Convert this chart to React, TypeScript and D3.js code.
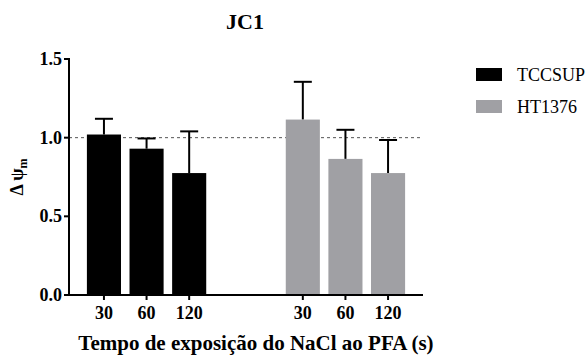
import * as d3 from 'd3';

const cellLines = ['TCCSUP', 'HT1376'];
const times = ['30', '60', '120'];
const meanTCCSUP = [1.02, 0.93, 0.775];
const errTCCSUP = [0.10, 0.065, 0.265];
const meanHT1376 = [1.115, 0.865, 0.775];
const errHT1376 = [0.24, 0.185, 0.21];
const yTicks = [0, 0.5, 1.0, 1.5];
const colors = ['#000000', '#a0a0a4'];

const W = 586, H = 355;
const FONT = '"Liberation Serif", "Times New Roman", serif';

export default function App() {
  const margin = { left: 69, right: 163, top: 59, bottom: 60 };
  const x0 = d3.scaleBand().domain(cellLines).range([margin.left, W - margin.right])
    .paddingInner(0.4).paddingOuter(0.09);
  const x1 = d3.scaleBand().domain(times).range([0, x0.bandwidth()]).paddingInner(0.2).paddingOuter(0);
  const y = d3.scaleLinear().domain([0, 1.5]).range([H - margin.bottom, margin.top]);
  const series = [
    { name: cellLines[0], mean: meanTCCSUP, err: errTCCSUP, color: colors[0] },
    { name: cellLines[1], mean: meanHT1376, err: errHT1376, color: colors[1] },
  ];
  const axisRight = W - margin.right;
  const y0 = y(0);

  return (
    <svg width={W} height={H} style={{ position: 'absolute', left: 0, top: 0, fontFamily: FONT }}>
      <text x={245} y={29} textAnchor="middle" fontWeight="bold" fontSize={22}>JC1</text>

      {/* reference line at 1.0 */}
      <line x1={margin.left} x2={axisRight - 2} y1={y(1)} y2={y(1)} stroke="#555" strokeWidth={1} strokeDasharray="3,3" />

      {series.map(s => (
        <g key={s.name}>
          {times.map((t, i) => {
            const bx = (x0(s.name) as number) + (x1(t) as number);
            const cx = bx + x1.bandwidth() / 2;
            const top = y(s.mean[i] + s.err[i]);
            return (
              <g key={t}>
                <line x1={cx} x2={cx} y1={y(s.mean[i])} y2={top} stroke="#000" strokeWidth={2} />
                <line x1={cx - 9} x2={cx + 9} y1={top} y2={top} stroke="#000" strokeWidth={2} />
                <rect x={bx} y={y(s.mean[i])} width={x1.bandwidth()} height={y0 - y(s.mean[i])} fill={s.color} />
                <line x1={cx} x2={cx} y1={y0} y2={y0 + 5} stroke="#000" strokeWidth={2} />
                <text x={cx} y={y0 + 24} textAnchor="middle" fontWeight="bold" fontSize={18}>{t}</text>
              </g>
            );
          })}
        </g>
      ))}

      {/* axes */}
      <line x1={margin.left} x2={margin.left} y1={y(1.5) - 1} y2={y0 + 1} stroke="#000" strokeWidth={2} />
      <line x1={margin.left - 1} x2={axisRight} y1={y0} y2={y0} stroke="#000" strokeWidth={2} />
      {yTicks.map(v => (
        <g key={v}>
          <line x1={margin.left - 5} x2={margin.left} y1={y(v)} y2={y(v)} stroke="#000" strokeWidth={2} />
          <text x={margin.left - 7} y={y(v)} dy="0.33em" textAnchor="end" fontWeight="bold" fontSize={18}>{d3.format('.1f')(v)}</text>
        </g>
      ))}

      <text transform={`translate(23,${(y(0) + y(1.5)) / 2}) rotate(-90)`} textAnchor="middle" fontWeight="bold" fontSize={18}>
        Δ ψ<tspan fontSize={12} dy={4}>m</tspan>
      </text>

      <text x={256} y={350} textAnchor="middle" fontWeight="bold" fontSize={21}>Tempo de exposição do NaCl ao PFA (s)</text>

      {series.map((s, i) => (
        <g key={s.name} transform={`translate(476,${68 + i * 32})`}>
          <rect width={26} height={13} fill={s.color} />
          <text x={41} y={7} dy="0.35em" fontSize={18}>{s.name}</text>
        </g>
      ))}
    </svg>
  );
}
